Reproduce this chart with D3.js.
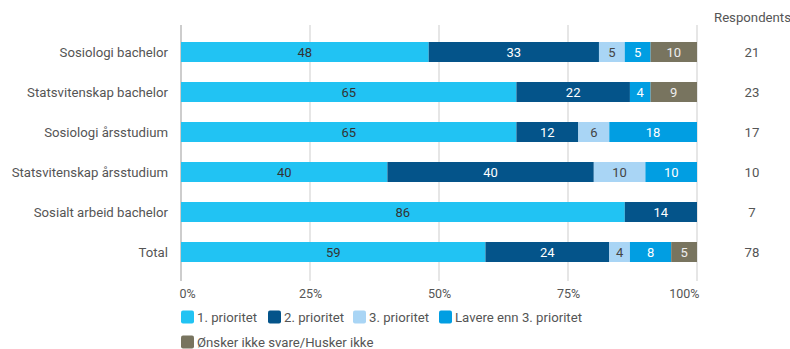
<!DOCTYPE html>
<html>
<head>
<meta charset="utf-8">
<script src="https://cdn.jsdelivr.net/npm/d3@7"></script>
<style>
  html, body { margin: 0; padding: 0; background: #fff; }
  svg { display: block; font-family: Roboto, "Noto Sans", sans-serif; }
</style>
</head>
<body>
<svg id="chart" width="790" height="349"></svg>
<script>
// Study programmes (rows) and respondent counts
const categories = [
  "Sosiologi bachelor",
  "Statsvitenskap bachelor",
  "Sosiologi årsstudium",
  "Statsvitenskap årsstudium",
  "Sosialt arbeid bachelor",
  "Total"
];
const respondents = [21, 23, 17, 10, 7, 78];

// Answer categories, stacked left to right
const seriesNames = [
  "1. prioritet",
  "2. prioritet",
  "3. prioritet",
  "Lavere enn 3. prioritet",
  "Ønsker ikke svare/Husker ikke"
];
// Percentages per series, one value per row
const prio1  = [48, 65, 65, 40, 86, 59];
const prio2  = [33, 22, 12, 40, 14, 24];
const prio3  = [5, 0, 6, 10, 0, 4];
const lavere = [5, 4, 18, 10, 0, 8];
const onsker = [10, 9, 0, 0, 0, 5];

const xTicks = [0, 25, 50, 75, 100];

const colors = ["#21c3f3", "#04548a", "#a9d5f5", "#019ee2", "#78745f"];
const labelColors = ["#333", "#fff", "#444", "#fff", "#eee"];

const seriesValues = [prio1, prio2, prio3, lavere, onsker];
const rows = categories.map((c, i) => {
  const r = { cat: c };
  seriesNames.forEach((s, j) => { r[s] = seriesValues[j][i]; });
  return r;
});

const svg = d3.select("#chart");
const W = 790;
const left = 181, right = 697;

// Rounded percentages may add up to 101; the scale clamps at 100 %.
const x = d3.scaleLinear().domain([0, 100]).range([left, right]).clamp(true);
const y = d3.scaleBand().domain(categories)
  .range([32, 272]).paddingInner(0.5).paddingOuter(0.25);

const stacked = d3.stack().keys(seriesNames)(rows);

// Gridlines
svg.append("g").selectAll("line").data(xTicks).join("line")
  .attr("x1", d => x(d)).attr("x2", d => x(d))
  .attr("y1", 25).attr("y2", 281)
  .attr("stroke", d => d === 0 ? "#bdbdbd" : "#dedede")
  .attr("stroke-width", 1.5);

// Bars
const layers = svg.append("g").selectAll("g").data(stacked).join("g")
  .attr("fill", (d, i) => colors[i]);

layers.selectAll("rect").data(d => d.filter(p => p[1] - p[0] > 0)).join("rect")
  .attr("x", p => x(p[0]))
  .attr("width", p => x(p[1]) - x(p[0]))
  .attr("y", p => y(p.data.cat))
  .attr("height", y.bandwidth());

// Value labels inside segments
stacked.forEach((layer, i) => {
  svg.append("g").selectAll("text")
    .data(layer.filter(p => p[1] - p[0] > 0))
    .join("text")
    .attr("x", p => (x(p[0]) + x(p[1])) / 2)
    .attr("y", p => y(p.data.cat) + y.bandwidth() / 2)
    .attr("dy", "0.36em")
    .attr("text-anchor", "middle")
    .attr("font-size", 13)
    .attr("fill", labelColors[i])
    .text(p => p.data[layer.key]);
});

// Category labels
svg.append("g").selectAll("text").data(categories).join("text")
  .attr("x", 168)
  .attr("y", d => y(d) + y.bandwidth() / 2)
  .attr("dy", "0.36em")
  .attr("text-anchor", "end")
  .attr("font-size", 13.2)
  .attr("fill", "#555")
  .text(d => d);

// Respondents column
svg.append("text")
  .attr("x", 714).attr("y", 22)
  .attr("text-anchor", "start")
  .attr("font-size", 13.2)
  .attr("fill", "#555")
  .text("Respondents");
svg.append("g").selectAll("text").data(categories).join("text")
  .attr("x", 752)
  .attr("y", d => y(d) + y.bandwidth() / 2)
  .attr("dy", "0.36em")
  .attr("text-anchor", "middle")
  .attr("font-size", 13.2)
  .attr("fill", "#555")
  .text((d, i) => respondents[i]);

// X axis tick labels: first one left-aligned, last one right-aligned
const axis = d3.axisBottom(x).tickValues(xTicks)
  .tickFormat(d => d + "%").tickSize(0).tickPadding(0);
const ax = svg.append("g").attr("transform", "translate(0,289)").call(axis);
ax.select(".domain").remove();
ax.selectAll("text")
  .attr("font-family", "Roboto, sans-serif")
  .attr("font-size", 12.5)
  .attr("fill", "#555")
  .attr("dy", "0.71em")
  .attr("text-anchor", d => d === 0 ? "start" : d === 100 ? "end" : "middle")
  .attr("dx", d => d === 0 ? -2 : d === 100 ? 2 : 0);

// Legend
const legendPos = [
  { x: 181, y: 317 }, { x: 268, y: 317 }, { x: 353, y: 317 },
  { x: 439, y: 317 }, { x: 181, y: 342 }
];
const lg = svg.append("g").selectAll("g").data(seriesNames).join("g")
  .attr("transform", (d, i) => `translate(${legendPos[i].x},${legendPos[i].y})`);
lg.append("rect")
  .attr("x", 0).attr("y", -6.5).attr("width", 13).attr("height", 13)
  .attr("rx", 2)
  .attr("fill", (d, i) => colors[i]);
lg.append("text")
  .attr("x", 16).attr("dy", "0.36em")
  .attr("font-size", 13.2)
  .attr("fill", "#555")
  .text(d => d);
</script>
</body>
</html>
